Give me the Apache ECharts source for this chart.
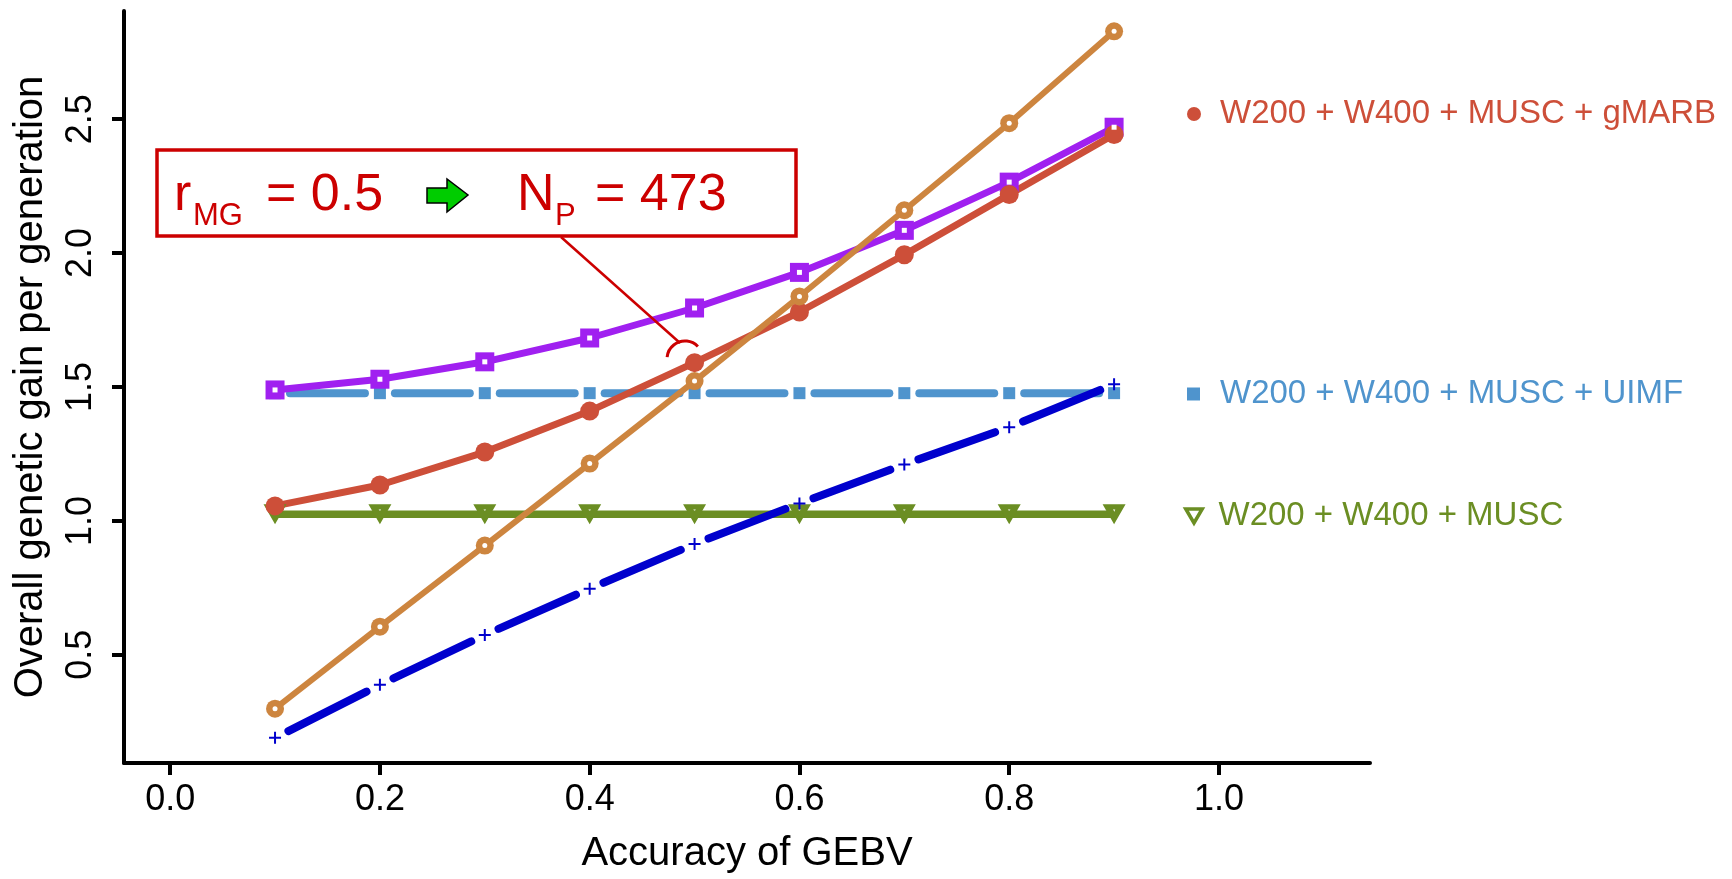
<!DOCTYPE html>
<html>
<head>
<meta charset="utf-8">
<title>Overall genetic gain per generation</title>
<script src="https://cdn.jsdelivr.net/npm/echarts@6/dist/echarts.min.js"></script>
<style>
  html, body { margin: 0; padding: 0; background: #fff; }
  #chart { width: 1732px; height: 879px; }
</style>
</head>
<body>
<div id="chart"></div>
<script>
// data
var accuracy = [0.1, 0.2, 0.3, 0.4, 0.5, 0.6, 0.7, 0.8, 0.9];
var gainMarb = [1.056, 1.134, 1.257, 1.41, 1.591, 1.78, 1.994, 2.219, 2.443];   // W200 + W400 + MUSC + gMARB
var gainUimf = [1.477, 1.477, 1.477, 1.477, 1.477, 1.477, 1.477, 1.477, 1.477]; // W200 + W400 + MUSC + UIMF
var gainMusc = [1.025, 1.025, 1.025, 1.025, 1.025, 1.025, 1.025, 1.025, 1.025]; // W200 + W400 + MUSC
var gainPurple = [1.489, 1.529, 1.594, 1.683, 1.795, 1.928, 2.085, 2.265, 2.47];
var gainOrange = [0.299, 0.605, 0.908, 1.214, 1.522, 1.838, 2.16, 2.485, 2.828];
var gainBlue = [0.19, 0.388, 0.574, 0.747, 0.914, 1.065, 1.211, 1.35, 1.51];
var xTicks = [0, 0.2, 0.4, 0.6, 0.8, 1.0];
var yTicks = [0.5, 1.0, 1.5, 2.0, 2.5];

var FONT = 'Liberation Sans, Arial, sans-serif';
var RED = '#CD4F39', STEEL = '#4F94CD', OLIVE = '#6B8E23';
var PURPLE = '#A020F0', PERU = '#CD853F', MBLUE = '#0000CD', NOTE = '#CC0000';

function points(ys) {
  return accuracy.map(function (x, i) { return [x, ys[i]]; });
}
function segments(ys) {
  var out = [];
  for (var i = 0; i < accuracy.length - 1; i++) {
    out.push([accuracy[i], ys[i], accuracy[i + 1], ys[i + 1]]);
  }
  return out;
}
// line pieces with a gap round each point (like R type = "b")
function gapLine(color, width, gap) {
  return function (params, api) {
    var a = api.coord([api.value(0), api.value(1)]);
    var b = api.coord([api.value(2), api.value(3)]);
    var dx = b[0] - a[0], dy = b[1] - a[1];
    var len = Math.sqrt(dx * dx + dy * dy);
    var ux = dx / len, uy = dy / len;
    return {
      type: 'line',
      shape: { x1: a[0] + ux * gap, y1: a[1] + uy * gap, x2: b[0] - ux * gap, y2: b[1] - uy * gap },
      style: { stroke: color, lineWidth: width, lineCap: 'round' }
    };
  };
}

var plusPath = 'path://M5,0H7V12H5Z M0,5H12V7H0Z';
var triRing = 'path://M0,0H23L11.5,20Z M10.3,5.3L11.5,7.8L12.7,5.3Z';

var chart = echarts.init(document.getElementById('chart'));

var option = {
  animation: false,
  backgroundColor: '#fff',
  grid: { left: 124, top: 11, width: 1246, height: 757, containLabel: false },
  xAxis: {
    type: 'value',
    min: -0.044, max: 1.144,
    name: 'Accuracy of GEBV',
    nameLocation: 'middle',
    nameGap: 71,
    nameTextStyle: { fontFamily: FONT, fontSize: 40, color: '#000' },
    axisLine: { onZero: false, lineStyle: { color: '#000', width: 4 } },
    axisTick: { show: true, customValues: xTicks, length: 12, lineStyle: { color: '#000', width: 4 } },
    axisLabel: {
      customValues: xTicks, margin: 19,
      fontFamily: FONT, fontSize: 36, color: '#000',
      formatter: function (v) { return v.toFixed(1); }
    },
    splitLine: { show: false }
  },
  yAxis: {
    type: 'value',
    min: 0.096, max: 2.904,
    name: 'Overall genetic gain per generation',
    nameLocation: 'middle',
    nameGap: 73,
    nameTextStyle: { fontFamily: FONT, fontSize: 40, color: '#000' },
    axisLine: { show: true, onZero: false, lineStyle: { color: '#000', width: 4 } },
    axisTick: { show: true, customValues: yTicks, length: 12, lineStyle: { color: '#000', width: 4 } },
    axisLabel: {
      customValues: yTicks, margin: 25, rotate: 90,
      fontFamily: FONT, fontSize: 36, color: '#000',
      formatter: function (v) { return v.toFixed(1); }
    },
    splitLine: { show: false }
  },
  legend: [
    {
      left: 1187, top: 94, padding: 0, itemWidth: 14, itemHeight: 14,
      icon: 'circle',
      data: [{ name: 'W200 + W400 + MUSC + gMARB', itemStyle: { color: RED } }],
      textStyle: { color: RED, fontFamily: FONT, fontSize: 33, lineHeight: 40, padding: [0, 0, 0, 14] }
    },
    {
      left: 1187, top: 374, padding: 0, itemWidth: 13, itemHeight: 13,
      icon: 'rect',
      data: [{ name: 'W200 + W400 + MUSC + UIMF', itemStyle: { color: STEEL } }],
      textStyle: { color: STEEL, fontFamily: FONT, fontSize: 33, lineHeight: 40, padding: [0, 0, 0, 15] }
    },
    {
      left: 1184, top: 496, padding: 0, itemWidth: 17, itemHeight: 14,
      icon: 'path://M0,0L20,0L10,17Z',
      data: [{ name: 'W200 + W400 + MUSC', itemStyle: { color: '#fff', borderColor: OLIVE, borderWidth: 3.5 } }],
      textStyle: { color: OLIVE, fontFamily: FONT, fontSize: 33, lineHeight: 40, padding: [0, 0, 0, 11] }
    }
  ],
  series: [
    {
      name: 'W200 + W400 + MUSC', type: 'line', data: points(gainMusc),
      color: OLIVE, lineStyle: { width: 7.5 },
      symbol: triRing, symbolSize: [23, 20], symbolKeepAspect: false,
      itemStyle: { color: OLIVE },
      emphasis: { disabled: true }
    },
    {
      name: 'W200 + W400 + MUSC + UIMF', type: 'custom', data: segments(gainUimf),
      encode: { x: [0, 2], y: [1, 3] },
      renderItem: gapLine(STEEL, 8, 15), color: STEEL
    },
    {
      name: 'W200 + W400 + MUSC + UIMF', type: 'scatter', data: points(gainUimf),
      symbol: 'rect', symbolSize: 12, itemStyle: { color: STEEL, opacity: 1 },
      emphasis: { disabled: true }
    },
    {
      name: 'Purple', type: 'line', data: points(gainPurple),
      color: PURPLE, lineStyle: { width: 7 },
      symbol: 'rect', symbolSize: 19,
      itemStyle: { color: PURPLE },
      emphasis: { disabled: true }
    },
    {
      name: 'W200 + W400 + MUSC + gMARB', type: 'line', data: points(gainMarb),
      color: RED, lineStyle: { width: 7 },
      symbol: 'circle', symbolSize: 19,
      itemStyle: { color: RED },
      emphasis: { disabled: true }
    },
    {
      name: 'Peru', type: 'line', data: points(gainOrange),
      color: PERU, lineStyle: { width: 6 },
      symbol: 'circle', symbolSize: 18,
      itemStyle: { color: PERU },
      emphasis: { disabled: true }
    },
    {
      name: 'Purple centre', type: 'scatter', data: points(gainPurple), silent: true, z: 4,
      symbol: 'rect', symbolSize: 5, itemStyle: { color: '#ffffff', opacity: 1 }
    },
    {
      name: 'Peru centre', type: 'scatter', data: points(gainOrange), silent: true, z: 4,
      symbol: 'circle', symbolSize: 5, itemStyle: { color: '#ffffff', opacity: 1 }
    },
    {
      name: 'Blue', type: 'custom', data: segments(gainBlue), z: 5,
      encode: { x: [0, 2], y: [1, 3] },
      renderItem: gapLine(MBLUE, 8, 15), color: MBLUE
    },
    {
      name: 'Blue', type: 'scatter', data: points(gainBlue), z: 5,
      symbol: plusPath, symbolSize: 12, itemStyle: { color: MBLUE, opacity: 1 },
      emphasis: { disabled: true }
    }
  ],
  graphic: [
    { type: 'rect', z: 100, shape: { x: 157, y: 150, width: 639, height: 86 },
      style: { fill: 'none', stroke: NOTE, lineWidth: 3.5 } },
    { type: 'line', z: 100, shape: { x1: 561, y1: 237, x2: 680, y2: 343 },
      style: { stroke: NOTE, lineWidth: 2.5 } },
    { type: 'arc', z: 100, shape: { cx: 685, cy: 359, r: 18, startAngle: 3.25, endAngle: 5.51, clockwise: true },
      style: { stroke: NOTE, lineWidth: 3, fill: null } },
    { type: 'polygon', z: 100,
      shape: { points: [[427, 188], [447, 188], [447, 179], [468, 195], [447, 212], [447, 203], [427, 203]] },
      style: { fill: '#00CC00', stroke: '#000', lineWidth: 1.5 } },
    { type: 'text', z: 100, x: 174, y: 196,
      style: { text: 'r', fill: NOTE, fontFamily: FONT, fontSize: 52, verticalAlign: 'middle', align: 'left' } },
    { type: 'text', z: 100, x: 193, y: 216,
      style: { text: 'MG', fill: NOTE, fontFamily: FONT, fontSize: 31, verticalAlign: 'middle', align: 'left' } },
    { type: 'text', z: 100, x: 266, y: 196,
      style: { text: '= 0.5', fill: NOTE, fontFamily: FONT, fontSize: 52, verticalAlign: 'middle', align: 'left' } },
    { type: 'text', z: 100, x: 517, y: 196,
      style: { text: 'N', fill: NOTE, fontFamily: FONT, fontSize: 52, verticalAlign: 'middle', align: 'left' } },
    { type: 'text', z: 100, x: 555, y: 216,
      style: { text: 'P', fill: NOTE, fontFamily: FONT, fontSize: 31, verticalAlign: 'middle', align: 'left' } },
    { type: 'text', z: 100, x: 595, y: 196,
      style: { text: '= 473', fill: NOTE, fontFamily: FONT, fontSize: 52, verticalAlign: 'middle', align: 'left' } }
  ]
};

chart.setOption(option);
</script>
</body>
</html>
